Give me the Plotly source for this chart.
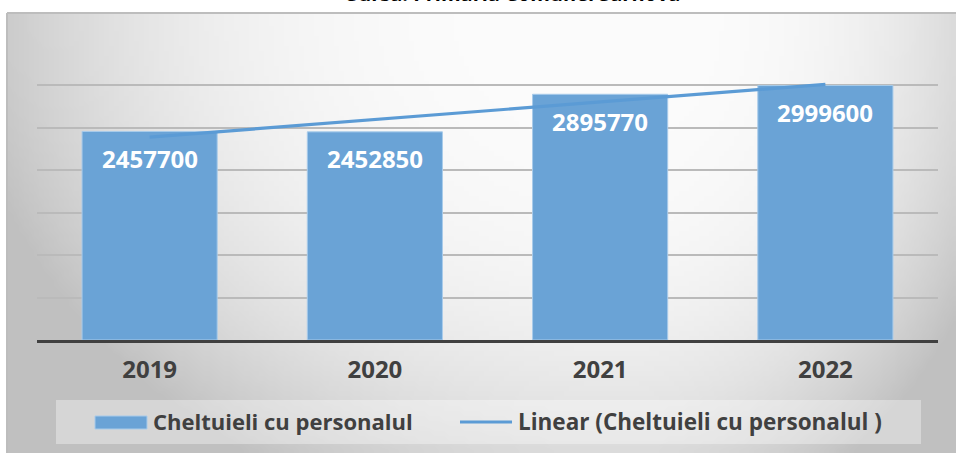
import base64
import struct
import zlib

import numpy as np
import plotly.graph_objects as go

# date grafic
ani = ["2019", "2020", "2021", "2022"]
cheltuieli = [2457700, 2452850, 2895770, 2999600]
serie_nume = "Cheltuieli cu personalul"
trend_nume = "Linear (Cheltuieli cu personalul )"
titlu = "Sursa: Primăria Comunei Sarnova"

W, H = 956, 453
PL, PR, PT, PB = 37, 938, 43, 340  # zona de plotare, in pixeli


# conversie pixeli -> coordonate paper
def X(px):
    return (px - PL) / (PR - PL)


def Y(py):
    return (PB - py) / (PB - PT)


# linia de tendinta (regresie liniara, ca in Excel)
idx = np.arange(1, len(ani) + 1)
panta, interceptie = np.polyfit(idx, cheltuieli, 1)
trend = [float(t) for t in panta * idx + interceptie]


# fundal cu gradient gri (decor) -> png mic, intins de browser
def gradient_png(w, h, x0, y0, x1, y1):
    gx = np.linspace(x0, x1, w)
    gy = np.linspace(y0, y1, h)
    XX, YY = np.meshgrid(gx, gy)
    cx, cy = 620, 15
    dx = np.where(XX < cx, (cx - XX) / 640, (XX - cx) / 400)
    dy = (YY - cy) / 520
    d = np.sqrt(dx ** 2 + dy ** 2)
    lum = np.clip(252 - 54 * np.clip(d, 0, 1.03) ** 3, 0, 255).astype(np.uint8)
    raw = b"".join(b"\x00" + lum[r].tobytes() for r in range(h))

    def chunk(tag, data):
        c = struct.pack(">I", len(data)) + tag + data
        return c + struct.pack(">I", zlib.crc32(tag + data) & 0xFFFFFFFF)

    png = b"\x89PNG\r\n\x1a\n"
    png += chunk(b"IHDR", struct.pack(">IIBBBBB", w, h, 8, 0, 0, 0, 0))
    png += chunk(b"IDAT", zlib.compress(raw, 9))
    png += chunk(b"IEND", b"")
    return "data:image/png;base64," + base64.b64encode(png).decode()


BX0, BY0, BX1, BY1 = 7, 13, 956, 453  # chenarul graficului
fundal = gradient_png(190, 88, BX0, BY0, BX1, BY1)

fig = go.Figure()

fig.add_trace(go.Bar(
    x=ani, y=cheltuieli, name=serie_nume,
    marker=dict(color="#6aa3d6", line=dict(color="#a8cbea", width=1)),
    width=0.6, showlegend=False,
))

fig.add_trace(go.Scatter(
    x=ani, y=trend, name=trend_nume, mode="lines",
    line=dict(color="#5b9bd5", width=3.2),
    showlegend=False, cliponaxis=False,
))

# etichete de valori in interiorul barelor
# (pe axa de categorii, x-ul adnotarii e numarul de ordine al categoriei)
for i, v in enumerate(cheltuieli):
    fig.add_annotation(
        x=i, y=v, text=str(v),
        showarrow=False, yanchor="middle", yshift=-27,
        font=dict(family="Open Sans", size=24, color="white", weight="bold"),
    )

# titlu (taiat sus, ca in original)
fig.add_annotation(
    x=X(513), y=Y(9), xref="paper", yref="paper", text=titlu,
    showarrow=False, yanchor="bottom", xanchor="center",
    font=dict(family="Open Sans", size=20, color="black", weight="bold"),
)

# legenda desenata manual
leg_font = dict(family="Open Sans", size=22, color="#404040", weight="bold")
shapes = [
    dict(type="rect", xref="paper", yref="paper", layer="above",
         x0=X(56), x1=X(921), y0=Y(444), y1=Y(400),
         fillcolor="rgba(255,255,255,0.35)", line=dict(width=0)),
    dict(type="rect", xref="paper", yref="paper", layer="above",
         x0=X(95), x1=X(147), y0=Y(429), y1=Y(416),
         fillcolor="#6aa3d6", line=dict(color="#a8cbea", width=1)),
    dict(type="line", xref="paper", yref="paper", layer="above",
         x0=X(460), x1=X(512), y0=Y(422), y1=Y(422),
         line=dict(color="#5b9bd5", width=3.2)),
    # chenar
    dict(type="line", xref="paper", yref="paper", layer="above",
         x0=X(BX0), x1=X(BX1), y0=Y(BY0), y1=Y(BY0),
         line=dict(color="#bdbdbd", width=2)),
    dict(type="line", xref="paper", yref="paper", layer="above",
         x0=X(BX0), x1=X(BX0), y0=Y(BY1), y1=Y(BY0),
         line=dict(color="#bdbdbd", width=2)),
]
fig.add_annotation(x=X(151), y=Y(421), xref="paper", yref="paper",
                   text=serie_nume, showarrow=False,
                   xanchor="left", yanchor="middle", font=leg_font)
fig.add_annotation(x=X(516), y=Y(421), xref="paper", yref="paper",
                   text=trend_nume, showarrow=False,
                   xanchor="left", yanchor="middle",
                   font=dict(leg_font, size=22.5))

fig.update_layout(
    width=W, height=H,
    margin=dict(l=PL, r=W - PR, t=PT, b=H - PB, autoexpand=False),
    paper_bgcolor="white",
    plot_bgcolor="rgba(0,0,0,0)",
    shapes=shapes,
    images=[dict(
        source=fundal, xref="paper", yref="paper",
        x=X(BX0), y=Y(BY0), sizex=X(BX1) - X(BX0), sizey=Y(BY0) - Y(BY1),
        xanchor="left", yanchor="top", sizing="stretch", layer="below",
    )],
    xaxis=dict(
        type="category", range=[-0.5, len(ani) - 0.5],
        showline=True, linecolor="#404040", linewidth=3,
        showgrid=False, ticks="outside", ticklen=6,
        tickcolor="rgba(0,0,0,0)", automargin=False,
        tickfont=dict(family="Open Sans", size=24, color="#404040", weight="bold"),
        fixedrange=True,
    ),
    yaxis=dict(
        range=[0, 3500000], dtick=500000, showticklabels=False,
        showgrid=True, gridcolor="#bababa", gridwidth=1.5,
        zeroline=False, automargin=False, fixedrange=True,
    ),
)

# pagina fara marginea implicita a body-ului, ca graficul sa inceapa din colt
fig.write_html("out.html", config={"displayModeBar": False},
               post_script="document.body.style.margin='0px';")
